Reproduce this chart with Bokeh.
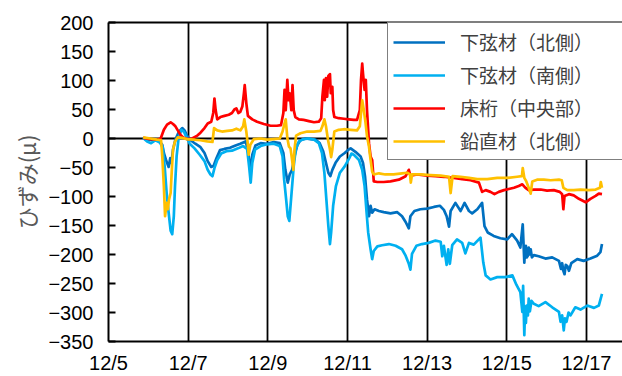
from bokeh.plotting import figure
from bokeh.models import FixedTicker, LinearAxis, Legend, LegendItem, Range1d
from bokeh.embed import file_html
from bokeh.resources import INLINE

# x positions are day-of-month in December (fractional days)
tick_days = [5, 7, 9, 11, 13, 15, 17]
tick_labels = ["12/5", "12/7", "12/9", "12/11", "12/13", "12/15", "12/17"]
y_ticks = [-350, -300, -250, -200, -150, -100, -50, 0, 50, 100, 150, 200]

series_names = ["下弦材（北側）", "下弦材（南側）", "床桁（中央部）", "鉛直材（北側）"]
series_colors = ["#0070C0", "#00B0F0", "#FF0000", "#FFC000"]

# 下弦材（北側）
t_north = [5.87, 5.97, 6.10, 6.26, 6.35, 6.39, 6.44, 6.47, 6.51, 6.55, 6.58, 6.62, 6.68, 6.77, 6.85,
           6.91, 6.97, 7.06, 7.18, 7.31, 7.41, 7.49, 7.58, 7.64, 7.71, 7.80, 7.91, 8.05, 8.19, 8.31,
           8.44, 8.50, 8.54, 8.57, 8.61, 8.69, 8.82, 8.98, 9.15, 9.30, 9.39, 9.44, 9.50, 9.55, 9.61,
           9.67, 9.74, 9.82, 9.95, 10.07, 10.20, 10.30, 10.39, 10.46, 10.52, 10.57, 10.62, 10.70, 10.81,
           10.93, 11.03, 11.08, 11.20, 11.33, 11.39, 11.44, 11.49, 11.54, 11.58, 11.62, 11.68, 11.79,
           11.91, 12.08, 12.25, 12.37, 12.46, 12.54, 12.58, 12.68, 12.83, 13.00, 13.17, 13.32, 13.42,
           13.49, 13.55, 13.59, 13.71, 13.84, 13.94, 14.05, 14.13, 14.26, 14.38, 14.44, 14.52, 14.67,
           14.84, 15.01, 15.13, 15.26, 15.34, 15.40, 15.44, 15.46, 15.48, 15.50, 15.53, 15.55, 15.58,
           15.60, 15.63, 15.68, 15.80, 15.97, 16.14, 16.31, 16.36, 16.39, 16.42, 16.45, 16.48, 16.52,
           16.56, 16.62, 16.77, 16.93, 17.10, 17.27, 17.35, 17.39]
v_north = [1, -3, -2, -3, -11, -25, -36, -42, -49, -34, -42, -19, -2, 12, 18,
           14, 5, -3, -9, -15, -25, -39, -49, -47, -34, -20, -18, -16, -12, -9,
           -5, -19, -42, -54, -28, -12, -8, -9, -6, -8, -25, -54, -76, -62, -54,
           -31, -11, -3, 0, -1, -2, -8, -22, -42, -59, -65, -54, -42, -31,
           -25, -19, -17, -23, -31, -42, -65, -105, -134, -116, -128, -122, -125,
           -127, -129, -127, -134, -144, -155, -134, -125, -122, -121, -118, -116, -123,
           -134, -152, -125, -111, -125, -111, -125, -129, -122, -111, -151, -162, -168,
           -172, -174, -165, -176, -188, -148, -214, -190, -185, -205, -202, -188, -200,
           -191, -205, -201, -203, -207, -205, -211, -225, -215, -228, -234, -218, -220,
           -228, -215, -208, -211, -207, -202, -196, -182]

# 下弦材（南側）
t_south = [5.87, 5.97, 6.07, 6.18, 6.29, 6.36, 6.41, 6.46, 6.51, 6.56, 6.60, 6.64, 6.67, 6.71, 6.76,
           6.83, 6.89, 6.96, 7.04, 7.16, 7.29, 7.41, 7.49, 7.56, 7.61, 7.66, 7.73, 7.83, 7.96, 8.10,
           8.25, 8.38, 8.48, 8.53, 8.57, 8.61, 8.68, 8.82, 8.98, 9.15, 9.30, 9.37, 9.41, 9.46, 9.50,
           9.54, 9.57, 9.61, 9.65, 9.70, 9.78, 9.90, 10.03, 10.16, 10.28, 10.36, 10.42, 10.47, 10.52,
           10.56, 10.59, 10.64, 10.71, 10.81, 10.93, 11.06, 11.10, 11.16, 11.29, 11.37, 11.43, 11.48,
           11.52, 11.58, 11.62, 11.66, 11.75, 11.87, 12.04, 12.21, 12.37, 12.46, 12.54, 12.58, 12.62,
           12.73, 12.87, 13.04, 13.21, 13.34, 13.38, 13.42, 13.49, 13.53, 13.57, 13.63, 13.75, 13.88,
           13.96, 14.05, 14.17, 14.34, 14.41, 14.47, 14.59, 14.76, 14.97, 15.14, 15.24, 15.34, 15.39,
           15.41, 15.44, 15.46, 15.48, 15.50, 15.53, 15.55, 15.58, 15.62, 15.68, 15.80, 15.97, 16.14,
           16.31, 16.35, 16.39, 16.43, 16.46, 16.50, 16.55, 16.60, 16.72, 16.85, 17.02, 17.19, 17.31, 17.39]
v_south = [1, -5, -8, -3, -7, -15, -48, -94, -128, -159, -165, -134, -82, -31, 1,
           15, 12, 2, -9, -17, -28, -39, -54, -62, -65, -51, -37, -26, -22, -21,
           -17, -13, -18, -48, -76, -42, -19, -13, -10, -9, -13, -31, -71, -105, -134,
           -142, -116, -82, -48, -19, -5, -1, 0, -2, -8, -25, -59, -105, -151,
           -182, -162, -116, -82, -59, -48, -32, -26, -28, -37, -54, -82, -128,
           -162, -191, -208, -194, -186, -184, -182, -185, -191, -202, -216, -226, -199,
           -185, -182, -180, -176, -178, -203, -185, -218, -191, -216, -184, -174, -180,
           -198, -180, -183, -171, -214, -236, -243, -239, -239, -236, -252, -265, -299,
           -254, -339, -290, -318, -288, -305, -276, -298, -280, -285, -289, -282, -291,
           -299, -316, -305, -331, -310, -316, -300, -305, -291, -295, -288, -292, -288, -268]

# 床桁（中央部）
t_floor = [5.87, 6.05, 6.22, 6.31, 6.39, 6.47, 6.56, 6.62, 6.68, 6.74, 6.81, 6.89, 6.99, 7.10, 7.23,
           7.31, 7.41, 7.49, 7.58, 7.63, 7.66, 7.69, 7.73, 7.81, 7.91, 8.02, 8.10, 8.16, 8.21, 8.26,
           8.31, 8.36, 8.40, 8.42, 8.46, 8.50, 8.61, 8.73, 8.90, 9.07, 9.23, 9.33, 9.39, 9.42, 9.45,
           9.49, 9.52, 9.55, 9.59, 9.62, 9.65, 9.69, 9.78, 9.90, 10.03, 10.16, 10.28, 10.34, 10.37,
           10.41, 10.43, 10.46, 10.49, 10.52, 10.56, 10.58, 10.62, 10.64, 10.67, 10.78, 10.91, 11.03,
           11.16, 11.24, 11.31, 11.34, 11.37, 11.39, 11.43, 11.46, 11.49, 11.54, 11.58, 11.62, 11.66,
           11.75, 11.91, 12.08, 12.29, 12.46, 12.54, 12.58, 12.75, 13.00, 13.21, 13.42, 13.67, 13.88,
           14.09, 14.30, 14.38, 14.47, 14.59, 14.69, 14.80, 14.93, 15.05, 15.18, 15.30, 15.39, 15.47,
           15.55, 15.68, 15.85, 16.01, 16.18, 16.33, 16.39, 16.42, 16.45, 16.56, 16.68, 16.81, 16.98,
           17.10, 17.23, 17.31, 17.39]
v_floor = [1, -1, -2, 0, 15, 24, 28, 25, 21, 14, 6, 1, -1, 0, 5,
           10, 18, 26, 29, 44, 69, 49, 33, 37, 39, 41, 44, 50, 52, 44,
           46, 55, 78, 92, 61, 39, 33, 29, 25, 22, 22, 23, 44, 84, 49,
           101, 66, 78, 49, 92, 49, 37, 33, 32, 30, 28, 29, 35, 72,
           101, 66, 104, 72, 108, 111, 78, 89, 49, 37, 35, 34, 33,
           32, 32, 49, 101, 129, 112, 84, 101, 49, -8, -31, -37, -74,
           -75, -75, -74, -71, -65, -54, -64, -62, -64, -65, -66, -68, -70,
           -72, -76, -92, -89, -92, -96, -92, -89, -87, -85, -82, -79, -85,
           -89, -88, -88, -90, -89, -92, -96, -122, -99, -96, -98, -104, -110,
           -104, -99, -95, -96]

# 鉛直材（北側）
t_vert = [5.87, 6.05, 6.22, 6.32, 6.35, 6.39, 6.42, 6.46, 6.49, 6.52, 6.56, 6.59, 6.62, 6.67, 6.74,
          6.85, 6.97, 7.14, 7.31, 7.48, 7.61, 7.65, 7.73, 7.85, 7.98, 8.10, 8.21, 8.31, 8.38, 8.41,
          8.46, 8.49, 8.52, 8.56, 8.65, 8.82, 8.98, 9.15, 9.30, 9.37, 9.42, 9.45, 9.49, 9.53, 9.57,
          9.61, 9.64, 9.67, 9.71, 9.82, 9.99, 10.16, 10.32, 10.37, 10.42, 10.46, 10.51, 10.56, 10.59,
          10.62, 10.67, 10.78, 10.91, 11.08, 11.24, 11.31, 11.34, 11.37, 11.41, 11.45, 11.49, 11.54,
          11.58, 11.62, 11.66, 11.79, 11.95, 12.16, 12.37, 12.50, 12.57, 12.59, 12.62, 12.83, 13.08,
          13.34, 13.55, 13.59, 13.64, 13.84, 14.05, 14.26, 14.51, 14.76, 15.01, 15.26, 15.38, 15.40,
          15.44, 15.49, 15.55, 15.60, 15.64, 15.76, 15.93, 16.10, 16.31, 16.38, 16.42, 16.52, 16.68,
          16.85, 17.06, 17.23, 17.34, 17.36, 17.39]
v_vert = [2, 0, -2, -3, -31, -82, -134, -111, -122, -105, -94, -54, -19, -5, 2,
          1, -1, -2, -3, -5, -6, 18, 14, 12, 13, 14, 17, 14, 21, 33,
          12, -5, -28, -11, -1, 0, -2, -1, 0, 12, 26, 33, 1, -14, -17,
          -37, -54, -19, 5, 9, 12, 12, 13, 21, 33, 21, -2, -19, -32,
          -19, 12, 15, 16, 15, 14, 21, 44, 66, 49, 29, 4, -14,
          -37, -57, -62, -60, -62, -62, -60, -59, -62, -76, -62, -62, -63,
          -64, -66, -94, -65, -66, -68, -70, -70, -68, -68, -66, -65, -51,
          -68, -74, -85, -95, -74, -71, -71, -72, -71, -72, -85, -89, -89,
          -88, -89, -88, -85, -75, -85]

p = figure(width=622, height=376, output_backend="svg", toolbar_location=None,
           x_range=Range1d(5, 17.905), y_range=Range1d(-350, 200),
           min_border_left=108, min_border_right=0, min_border_top=22, min_border_bottom=33,
           background_fill_color="white", border_fill_color="white")
p.outline_line_color = None

tick_font = "Liberation Sans"

p.xaxis.ticker = FixedTicker(ticks=tick_days)
p.xaxis.major_label_overrides = {d: lab for d, lab in zip(tick_days, tick_labels)}
p.xaxis.major_tick_in = 0
p.xaxis.major_tick_out = 0
p.xaxis.minor_tick_line_color = None
p.xaxis.major_label_standoff = 10
p.xaxis.axis_line_width = 2
p.xaxis.axis_line_color = "black"
p.xaxis.major_label_text_font = tick_font
p.xaxis.major_label_text_font_size = "20px"
p.xaxis.major_label_text_color = "black"

p.yaxis.ticker = FixedTicker(ticks=y_ticks)
p.yaxis.major_tick_in = 7
p.yaxis.major_tick_out = 0
p.yaxis.major_tick_line_width = 2
p.yaxis.minor_tick_line_color = None
p.yaxis.major_label_standoff = 15
p.yaxis.axis_line_width = 2
p.yaxis.axis_line_color = "black"
p.yaxis.major_label_text_font = tick_font
p.yaxis.major_label_text_font_size = "20px"
p.yaxis.major_label_text_color = "black"
p.yaxis.axis_label = "ひずみ(μ)"
p.yaxis.axis_label_text_font = "Noto Sans CJK JP"
p.yaxis.axis_label_text_font_size = "22px"
p.yaxis.axis_label_text_font_style = "normal"
p.yaxis.axis_label_text_color = "#595959"
p.yaxis.axis_label_standoff = 3

top_axis = LinearAxis(ticker=FixedTicker(ticks=[]), axis_line_width=2, axis_line_color="black",
                      major_tick_line_color=None, minor_tick_line_color=None)
p.add_layout(top_axis, "above")

p.xgrid.ticker = FixedTicker(ticks=tick_days)
p.xgrid.grid_line_color = "black"
p.xgrid.grid_line_width = 1.8
p.ygrid.ticker = FixedTicker(ticks=[0])
p.ygrid.grid_line_color = "black"
p.ygrid.grid_line_width = 2

data = [(t_north, v_north), (t_south, v_south), (t_floor, v_floor), (t_vert, v_vert)]
renderers = []
for (t, v), c in zip(data, series_colors):
    renderers.append(p.line(t, v, line_color=c, line_width=2.7, line_join="round"))

legend = Legend(items=[LegendItem(label=n, renderers=[r]) for n, r in zip(series_names, renderers)],
                location=(279, 181), margin=0, padding=5, spacing=6,
                glyph_width=52, glyph_height=20, label_height=20, label_width=165,
                label_standoff=15, label_text_font="Noto Sans CJK JP",
                label_text_font_size="19px", label_text_color="#404040",
                border_line_color="black", border_line_width=1.5,
                background_fill_color="white", background_fill_alpha=1)
p.add_layout(legend)

open("out.html", "w").write(file_html(p, INLINE))
